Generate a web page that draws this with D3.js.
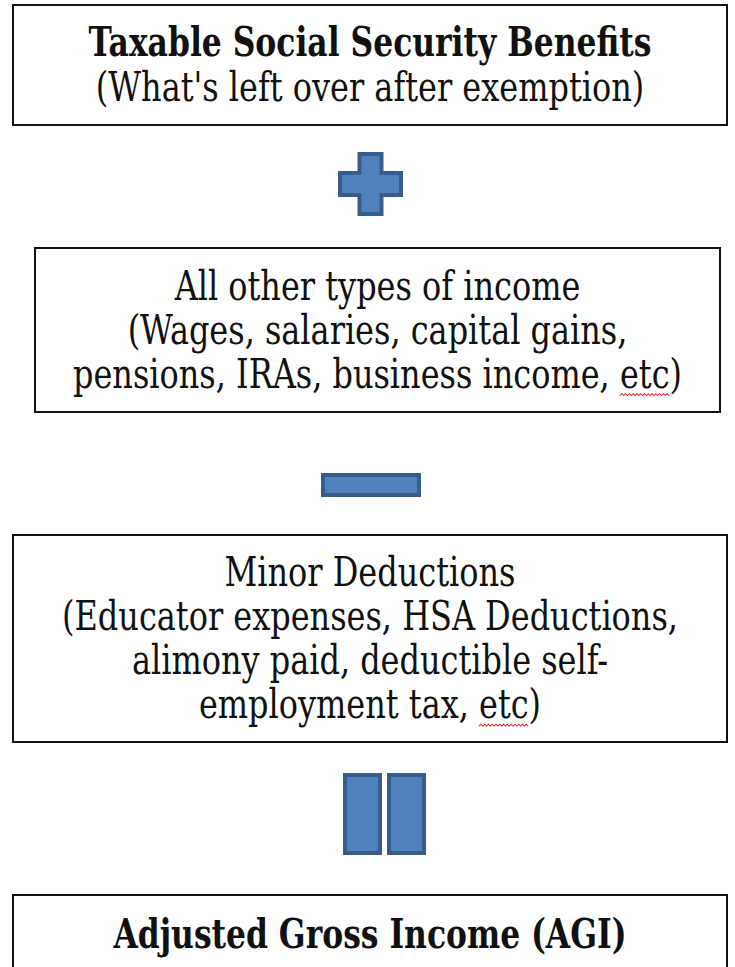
<!DOCTYPE html>
<html>
<head>
<meta charset="utf-8">
<script src="https://cdn.jsdelivr.net/npm/d3@7"></script>
<style>
  html, body { margin: 0; padding: 0; background: #fff; }
  svg { display: block; }
</style>
</head>
<body>
<div id="chart"></div>
<script>
//----- DATA ---------------------------------------//
var steps = ['benefits', 'other', 'deductions', 'agi'];
var titles = [
    ['Taxable Social Security Benefits'],
    [],
    [],
    ['Adjusted Gross Income (AGI)']
];
var details = [
    ["(What's left over after exemption)"],
    ['All other types of income', '(Wages, salaries, capital gains,', 'pensions, IRAs, business income, etc)'],
    ['Minor Deductions', '(Educator expenses, HSA Deductions,', 'alimony paid, deductible self-', 'employment tax, etc)'],
    []
];
var operators = ['plus', 'minus', 'equals'];
var flagged = ['etc'];

//----- SETTINGS -----------------------------------//
var WIDTH = 735,
    HEIGHT = 967,
    FONT = '"DejaVu Serif Condensed", "DejaVu Serif", serif',
    SQUEEZE = 0.86,          // horizontal squeeze, the original face is narrow
    LINE_HEIGHT = 44,
    BASELINE_SHIFT = 0.33,
    FILL = '#4f81bd',
    EDGE = '#385d8a',
    // box frames: [left, top, right, bottom]
    FRAMES = [[13, 5, 727, 125], [35, 248, 720, 412], [13, 535, 727, 742], [13, 895, 727, 975]],
    // operator frames: [left, top, right, bottom]
    OP_FRAMES = [[338, 152, 403, 216], [321, 473, 421, 497], [343, 773, 426, 855]],
    ARM = 26,
    BAR_GAP = 5,
    FIT_REGULAR = ['(Educator expenses, HSA Deductions,', 616],
    FIT_BOLD = ['Taxable Social Security Benefits', 563];

var svg = d3.select('#chart').append('svg')
    .attr('width', WIDTH)
    .attr('height', HEIGHT);

//----- FIT FONT SIZE TO REFERENCE WIDTH -----------//
function fitSize(text, target, weight) {
    var probe = svg.append('text')
        .attr('font-family', FONT)
        .attr('font-size', 40)
        .attr('font-weight', weight)
        .text(text);
    var w = probe.node().getComputedTextLength() * SQUEEZE;
    probe.remove();
    return 40 * target / w;
}
var REGULAR_SIZE = fitSize(FIT_REGULAR[0], FIT_REGULAR[1], 'normal');
var BOLD_SIZE = fitSize(FIT_BOLD[0], FIT_BOLD[1], 'bold');

//----- BOXES --------------------------------------//
var boxes = svg.selectAll('g.box')
    .data(steps).enter()
    .append('g')
        .attr('class', 'box');

boxes.append('rect')
    .attr('x', function (d, i) { return FRAMES[i][0]; })
    .attr('y', function (d, i) { return FRAMES[i][1]; })
    .attr('width', function (d, i) { return FRAMES[i][2] - FRAMES[i][0]; })
    .attr('height', function (d, i) { return FRAMES[i][3] - FRAMES[i][1]; })
    .attr('fill', '#fff')
    .attr('stroke', '#111')
    .attr('stroke-width', 2);

function getLines(d, i) {
    var lines = [];
    titles[i].forEach(function (t) { lines.push({ text: t, bold: true }); });
    details[i].forEach(function (t) { lines.push({ text: t, bold: false }); });
    var f = FRAMES[i];
    var mid = (f[1] + f[3]) / 2;
    var first = mid - (lines.length - 1) * LINE_HEIGHT / 2;
    lines.forEach(function (l, k) {
        l.cx = (f[0] + f[2]) / 2;
        l.size = l.bold ? BOLD_SIZE : REGULAR_SIZE;
        l.y = first + k * LINE_HEIGHT + l.size * BASELINE_SHIFT;
    });
    return lines;
}

var labels = boxes.selectAll('g.line')
    .data(getLines).enter()
    .append('g')
        .attr('class', 'line')
        .attr('transform', function (l) {
            return 'translate(' + l.cx + ',' + l.y + ') scale(' + SQUEEZE + ',1)';
        })
    .append('text')
        .attr('x', 0)
        .attr('y', 0)
        .attr('text-anchor', 'middle')
        .attr('font-family', FONT)
        .attr('font-size', function (l) { return l.size; })
        .attr('font-weight', function (l) { return l.bold ? 'bold' : 'normal'; })
        .attr('fill', '#111')
        .text(function (l) { return l.text; });

//----- SPELL-CHECK SQUIGGLES ----------------------//
labels.each(function (l) {
    var node = this;
    flagged.forEach(function (word) {
        var at = l.text.lastIndexOf(word);
        if (at < 0 || l.bold) { return; }
        var start = node.getStartPositionOfChar(at).x;
        var end = node.getEndPositionOfChar(at + word.length - 1).x;
        var p = d3.path();
        var y = 8, step = 2.2, up = true;
        p.moveTo(start, y);
        for (var x = start + step; x <= end; x += step) {
            p.lineTo(x, up ? y - 2 : y);
            up = !up;
        }
        d3.select(node.parentNode).append('path')
            .attr('d', p.toString())
            .attr('fill', 'none')
            .attr('stroke', '#e02020')
            .attr('stroke-width', 1.1);
    });
});

//----- OPERATORS ----------------------------------//
function getOperatorShapes(op, i) {
    var f = OP_FRAMES[i], h = 2; // half of stroke width, keeps outer edge on frame
    var x0 = f[0] + h, y0 = f[1] + h, x1 = f[2] - h, y1 = f[3] - h;
    if (op === 'plus') {
        var cx = (f[0] + f[2]) / 2, cy = (f[1] + f[3]) / 2, a = ARM / 2 - h;
        var p = d3.path();
        p.moveTo(cx - a, y0);
        p.lineTo(cx + a, y0);
        p.lineTo(cx + a, cy - a);
        p.lineTo(x1, cy - a);
        p.lineTo(x1, cy + a);
        p.lineTo(cx + a, cy + a);
        p.lineTo(cx + a, y1);
        p.lineTo(cx - a, y1);
        p.lineTo(cx - a, cy + a);
        p.lineTo(x0, cy + a);
        p.lineTo(x0, cy - a);
        p.lineTo(cx - a, cy - a);
        p.closePath();
        return [p.toString()];
    }
    if (op === 'minus') {
        return ['M' + x0 + ',' + y0 + 'H' + x1 + 'V' + y1 + 'H' + x0 + 'Z'];
    }
    var half = (f[2] - f[0] - BAR_GAP) / 2;
    var l1 = x0 + half - 2 * h, r0 = x1 - half + 2 * h;
    return [
        'M' + x0 + ',' + y0 + 'H' + l1 + 'V' + y1 + 'H' + x0 + 'Z',
        'M' + r0 + ',' + y0 + 'H' + x1 + 'V' + y1 + 'H' + r0 + 'Z'
    ];
}

svg.selectAll('g.op')
    .data(operators).enter()
    .append('g')
        .attr('class', 'op')
    .selectAll('path')
        .data(getOperatorShapes).enter()
        .append('path')
            .attr('d', function (d) { return d; })
            .attr('fill', FILL)
            .attr('stroke', EDGE)
            .attr('stroke-width', 4)
            .attr('stroke-linejoin', 'miter');
</script>
</body>
</html>
